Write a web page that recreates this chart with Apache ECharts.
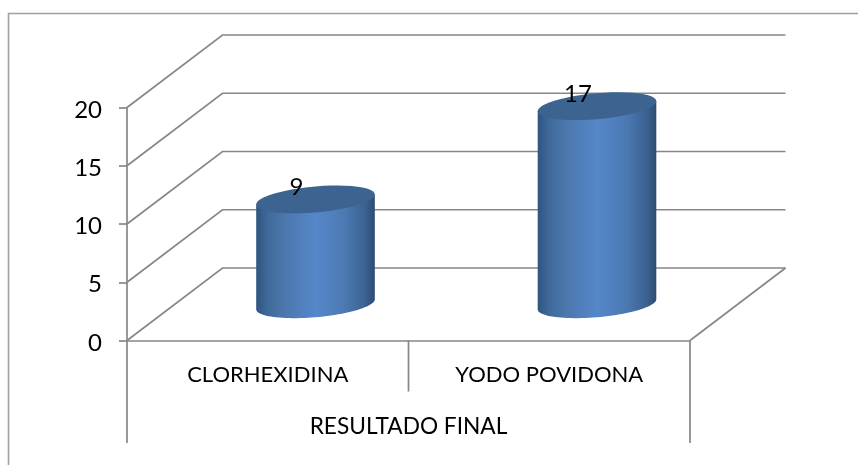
<!DOCTYPE html>
<html><head><meta charset="utf-8">
<style>html,body{margin:0;padding:0;background:#fff}#c{width:858px;height:465px}</style>
<script src="https://cdn.jsdelivr.net/npm/echarts@6/dist/echarts.min.js"></script>
</head><body><div id="c"></div>
<script>
const categories = ['CLORHEXIDINA', 'YODO POVIDONA'];
const values = [9, 17];
const yTicks = [0, 5, 10, 15, 20];
const groupLabel = 'RESULTADO FINAL';

const FONT = 'Lato';
const LINE = '#878787';
const LW = 1.7;
const DX = 95.5, DY = -72.5;      // depth vector of the 3D box
const RX = 59.3, SLANT = 5, RY = 13; // cylinder ellipse

function ellipsePts(cx, cy, from, to) {
  const pts = [], n = 48;
  for (let i = 0; i <= n; i++) {
    const t = from + (to - from) * i / n;
    pts.push([cx + RX * Math.cos(t), cy - SLANT * Math.cos(t) - RY * Math.sin(t)]);
  }
  return pts;
}

const chart = echarts.init(document.getElementById('c'), null, {renderer: 'canvas'});
chart.setOption({
  animation: false,
  backgroundColor: '#fff',
  graphic: [{type: 'rect', z: -10, shape: {x: 8.5, y: 13.5, width: 870, height: 480},
    style: {fill: 'none', stroke: '#a0a0a0', lineWidth: 1.6}}],
  grid: {left: 127, top: 107.5, width: 563, height: 233, containLabel: false},
  xAxis: {
    type: 'category', data: categories,
    axisLine: {show: true, lineStyle: {color: LINE, width: LW}},
    axisTick: {show: false},
    axisLabel: {color: '#000', fontFamily: FONT, fontSize: 22, margin: 23, interval: 0},
    name: groupLabel, nameLocation: 'middle', nameGap: 75,
    nameTextStyle: {color: '#000', fontFamily: FONT, fontSize: 22.7}
  },
  yAxis: {
    type: 'value', min: 0, max: 20, interval: 5,
    axisLine: {show: true, lineStyle: {color: LINE, width: LW}},
    axisTick: {show: true, length: 8, lineStyle: {color: LINE, width: LW}},
    axisLabel: {
      margin: 25,
      formatter: '{n|{value}}',
      rich: {n: {color: '#000', fontFamily: FONT, fontSize: 24, padding: [5, 0, 0, 0]}}
    },
    splitLine: {show: false}
  },
  series: [
    { // back wall and side wall grid lines
      type: 'custom', coordinateSystem: 'cartesian2d', z: 1, silent: true, clip: false,
      data: yTicks.map(v => [0, v]),
      renderItem(params, api) {
        const cs = params.coordSys;
        const y = api.coord([0, api.value(1)])[1];
        const x0 = cs.x, x1 = cs.x + cs.width;
        const children = [{type: 'polyline',
          shape: {points: [[x0, y], [x0 + DX, y + DY], [x1 + DX, y + DY]]},
          style: {fill: 'none', stroke: LINE, lineWidth: LW}}];
        if (api.value(1) === 0) children.push({type: 'line',
          shape: {x1: x1, y1: y, x2: x1 + DX, y2: y + DY},
          style: {stroke: LINE, lineWidth: LW}});
        return {type: 'group', children};
      }
    },
    { // multi-level category separators
      type: 'custom', coordinateSystem: 'cartesian2d', z: 1, silent: true, clip: false,
      data: [[0, 0], [1, 0], [2, 0]],
      renderItem(params, api) {
        const cs = params.coordSys;
        const band = api.size([1, 0])[0];
        const i = api.value(0);
        const x = cs.x + band * i;
        const bottom = (i === 1) ? 51 : 102.5;
        const y = cs.y + cs.height;
        return {type: 'line', shape: {x1: x, y1: y, x2: x, y2: y + bottom},
          style: {stroke: LINE, lineWidth: LW}};
      }
    },
    { // cylinders
      type: 'custom', coordinateSystem: 'cartesian2d', z: 3, clip: false,
      data: values.map((v, i) => [i, v]),
      renderItem(params, api) {
        const base = api.coord([api.value(0), 0]);
        const top = api.coord([api.value(0), api.value(1)]);
        const cx = base[0] + DX / 2;
        const by = base[1] + DY / 2, ty = top[1] + DY / 2;
        // side: top half-edge from left to right then lower arc of the base
        const side = [[cx - RX, ty + SLANT], [cx + RX, ty - SLANT]]
          .concat(ellipsePts(cx, by, 0, -Math.PI));
        return {type: 'group', children: [
          {type: 'polygon', shape: {points: side}, style: {
            fill: new echarts.graphic.LinearGradient(0, 0, 1, 0, [
              {offset: 0, color: '#30557e'},
              {offset: 0.1, color: '#3f6a9b'},
              {offset: 0.25, color: '#4c78ae'},
              {offset: 0.5, color: '#5587c9'},
              {offset: 0.75, color: '#4b79b2'},
              {offset: 0.92, color: '#3b6291'},
              {offset: 1, color: '#2d4b70'}
            ])}},
          {type: 'polygon', shape: {points: ellipsePts(cx, ty, 0, 2 * Math.PI)},
            style: {fill: '#3d6490'}},
          {type: 'text', z2: 10, style: {
            text: String(api.value(1)), x: cx - 19, y: ty - 12,
            fill: '#000', font: '24px ' + FONT, textAlign: 'center', textVerticalAlign: 'middle'}}
        ]};
      }
    }
  ]
});
</script></body></html>
